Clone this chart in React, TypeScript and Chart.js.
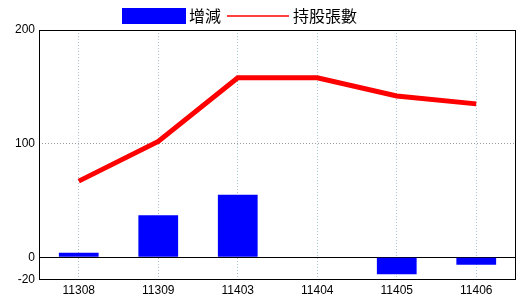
import React, { useEffect, useRef } from "react";
import { Chart, registerables } from "chart.js";

Chart.register(...registerables);

const categories = ["11308", "11309", "11403", "11404", "11405", "11406"];
const changeValues = [4, 37, 55, 0, -15, -6.5];
const holdingValues = [67, 102, 158, 158, 142, 135];
const yTicks = [-20, 0, 100, 200];
const barLabel = "增減";
const lineLabel = "持股張數";

const FONT = "'Liberation Sans', Arial, sans-serif";
const CJK = "'Noto Sans CJK TC', 'Noto Sans CJK SC', sans-serif";

const frameAndLegend = {
  id: "frameAndLegend",
  afterDraw(chart: any) {
    const { ctx, chartArea } = chart;
    ctx.save();
    ctx.strokeStyle = "#000";
    ctx.lineWidth = 1;
    ctx.setLineDash([]);
    ctx.strokeRect(
      Math.round(chartArea.left) + 0.5,
      Math.round(chartArea.top) + 0.5,
      Math.round(chartArea.right - chartArea.left) - 1,
      Math.round(chartArea.bottom - chartArea.top) - 1
    );
    // legend
    const ds = chart.data.datasets;
    const bar = ds.find((d: any) => d.type === "bar");
    const line = ds.find((d: any) => d.type === "line");
    ctx.fillStyle = bar.backgroundColor;
    ctx.fillRect(122, 8, 64, 16);
    ctx.font = `16px ${CJK}`;
    ctx.textBaseline = "middle";
    ctx.fillStyle = "#000";
    ctx.fillText(bar.label, 189, 16);
    ctx.strokeStyle = line.borderColor;
    ctx.lineWidth = 1.5;
    ctx.beginPath();
    ctx.moveTo(227, 16);
    ctx.lineTo(289, 16);
    ctx.stroke();
    ctx.fillStyle = "#000";
    ctx.fillText(line.label, 293, 16);
    ctx.restore();
  },
};

export default function App() {
  const ref = useRef<HTMLCanvasElement | null>(null);
  useEffect(() => {
    document.body.style.margin = "0";
    const canvas = ref.current!;
    const chart = new Chart(canvas, {
      data: {
        labels: categories,
        datasets: [
          {
            type: "line",
            label: lineLabel,
            data: holdingValues,
            borderColor: "#ff0000",
            backgroundColor: "#ff0000",
            borderWidth: 5,
            pointRadius: 0,
            tension: 0,
            order: 0,
          },
          {
            type: "bar",
            label: barLabel,
            data: changeValues,
            backgroundColor: "#0000ff",
            borderWidth: 0,
            barPercentage: 0.5,
            categoryPercentage: 1,
            order: 1,
          },
        ],
      } as any,
      options: {
        responsive: false,
        animation: false,
        layout: { padding: { top: 30, right: 4, left: 0, bottom: 0 } },
        plugins: {
          legend: { display: false },
          tooltip: { enabled: false },
        },
        scales: {
          x: {
            type: "category",
            offset: true,
            grid: {
              offset: false,
              color: "#a8c4d4",
              lineWidth: 1,
              drawTicks: false,
            },
            border: { display: false, dash: [1, 2] },
            ticks: {
              color: "#000",
              font: { family: FONT, size: 12 },
              padding: 3,
              maxRotation: 0,
            },
            afterFit: (s: any) => {
              s.height = 20;
            },
          },
          y: {
            min: -20,
            max: 200,
            afterBuildTicks: (s: any) => {
              s.ticks = yTicks.map((v) => ({ value: v }));
            },
            grid: {
              drawTicks: false,
              lineWidth: 1,
              color: (c: any) => {
                const v = c.tick ? c.tick.value : null;
                if (v === 0) return "#000";
                if (v === 100) return "#999";
                return "rgba(0,0,0,0)";
              },
            },
            border: {
              display: false,
              dash: (c: any) => (c.tick && c.tick.value === 0 ? [] : [1, 2]),
            } as any,
            ticks: {
              color: "#000",
              font: { family: FONT, size: 12 },
              padding: 4,
            },
            afterFit: (s: any) => {
              s.width = 39;
            },
          },
        },
      } as any,
      plugins: [frameAndLegend],
    });
    return () => chart.destroy();
  }, []);
  return <canvas ref={ref} width={520} height={300} />;
}
